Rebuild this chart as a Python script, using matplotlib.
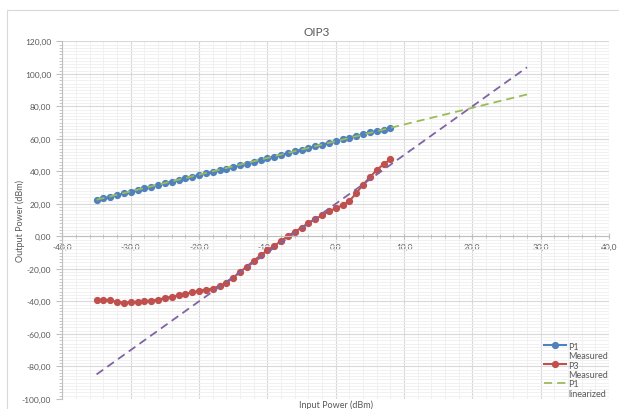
import numpy as np
import matplotlib
matplotlib.use('Agg')
import matplotlib.pyplot as plt
from matplotlib.lines import Line2D
from matplotlib.patches import Rectangle
from matplotlib.ticker import MultipleLocator, FuncFormatter

plt.rcParams['font.family'] = ['Lato', 'DejaVu Sans']

# data
input_dbm = [-35, -34, -33, -32, -31, -30, -29, -28, -27, -26, -25, -24, -23, -22,
             -21, -20, -19, -18, -17, -16, -15, -14, -13, -12, -11, -10, -9, -8,
             -7, -6, -5, -4, -3, -2, -1, 0, 1, 2, 3, 4, 5, 6, 7, 8]
p1_measured = [22.3, 23.4, 24.4, 25.4, 26.4, 27.5, 28.5, 29.6, 30.6, 31.6, 32.6, 33.6,
               34.7, 35.7, 36.7, 37.7, 38.8, 39.7, 40.6, 41.5, 42.6, 43.7, 44.8, 45.9,
               47.0, 48.0, 49.1, 50.1, 51.2, 52.2, 53.2, 54.3, 55.3, 56.4, 57.5, 58.6,
               59.7, 60.8, 61.9, 62.9, 63.9, 64.8, 65.7, 66.5]
p3_measured = [-39.4, -39.0, -39.4, -40.4, -40.8, -40.6, -40.2, -39.8, -39.6, -39.0,
               -38.0, -37.2, -36.3, -35.3, -34.5, -33.5, -32.9, -32.2, -30.6, -28.6,
               -25.5, -22.0, -18.6, -15.0, -11.8, -8.6, -6.0, -2.8, 0.0, 2.8, 5.3, 8.2,
               10.5, 12.9, 15.4, 17.2, 19.1, 21.7, 26.5, 31.8, 36.3, 40.8, 44.3, 47.4]
lin_x = [-35, 28]
p1_linearized = [22.5, 87.3]
p3_linearized = [-85.0, 104.0]

c_blue = '#4f81bd'
c_red = '#c0504d'
c_green = '#9bbb59'
c_purple = '#8064a2'
c_text = '#595959'
c_axis = '#bfbfbf'

W, H = 619, 410
fig = plt.figure(figsize=(W / 100, H / 100), dpi=100)
ax = fig.add_axes([62.4 / W, 1 - 399.8 / H, (609 - 62.4) / W, (399.8 - 42.3) / H])

ax.plot(input_dbm, p1_measured, color=c_blue, lw=1.5, marker='o', ms=4.2, mec=c_blue)
ax.plot(input_dbm, p3_measured, color=c_red, lw=1.5, marker='o', ms=4.2, mec=c_red)
ax.plot(lin_x, p1_linearized, color=c_green, lw=1.3, dashes=(4.5, 2.8))
ax.plot(lin_x, p3_linearized, color=c_purple, lw=1.3, dashes=(4.5, 2.8))

ax.set_xlim(-40, 40)
ax.set_ylim(-100, 120)
ax.xaxis.set_major_locator(MultipleLocator(10))
ax.xaxis.set_minor_locator(MultipleLocator(2))
ax.yaxis.set_major_locator(MultipleLocator(20))
ax.yaxis.set_minor_locator(MultipleLocator(2))
ax.xaxis.set_major_formatter(FuncFormatter(lambda v, p: f"{v:.1f}".replace('.', ',')))
ax.yaxis.set_major_formatter(FuncFormatter(lambda v, p: f"{v:.2f}".replace('.', ',')))

ax.set_axisbelow(True)
ax.grid(which='major', color='#d9d9d9', lw=0.8)
ax.grid(which='minor', color='#efefef', lw=0.6)

for s in ['top', 'right']:
    ax.spines[s].set_visible(False)
ax.spines['bottom'].set_position(('data', 0))
ax.spines['bottom'].set_color(c_axis)
ax.spines['left'].set_color(c_axis)
ax.tick_params(axis='x', which='major', direction='inout', length=5, color=c_axis,
               labelsize=6, labelcolor=c_text, pad=2)
ax.tick_params(axis='x', which='minor', direction='inout', length=3, color=c_axis)
ax.tick_params(axis='y', which='major', direction='out', length=4, color=c_axis,
               labelsize=6, labelcolor=c_text, pad=4)
ax.tick_params(axis='y', which='minor', direction='out', length=2.5, color=c_axis)

blank = Line2D([], [], linestyle='none')
handles = [Line2D([], [], color=c_blue, lw=1.5, marker='o', ms=4.2), blank,
           Line2D([], [], color=c_red, lw=1.5, marker='o', ms=4.2), blank,
           Line2D([], [], color=c_green, lw=1.3, dashes=(4.5, 2.8)), blank]
labels = ['P1', 'Measured', 'P3', 'Measured', 'P1', 'linearized']
leg = ax.legend(handles, labels, loc='lower right', bbox_to_anchor=(1.0, 0.0),
                borderaxespad=0, borderpad=0.1, frameon=False, fontsize=6.5,
                handlelength=2.4, handletextpad=0.3, labelspacing=0.05)
for t in leg.get_texts():
    t.set_color(c_text)

fig.text(317 / W, 1 - 33 / H, 'OIP3', ha='center', va='center', fontsize=8.5, color=c_text)
fig.text(20 / W, 1 - 221 / H, 'Output Power (dBm)', rotation=90, ha='center', va='center',
         fontsize=6.5, color=c_text)
fig.text(336 / W, 1 - 405 / H, 'Input Power (dBm)', ha='center', va='center',
         fontsize=6.5, color=c_text)

fig.add_artist(Rectangle((7 / W, -0.1), 1.2, 1 - 11 / H + 0.1, transform=fig.transFigure,
                         fill=False, ec='#d9d9d9', lw=0.8))

fig.savefig('out.png', dpi=100)
